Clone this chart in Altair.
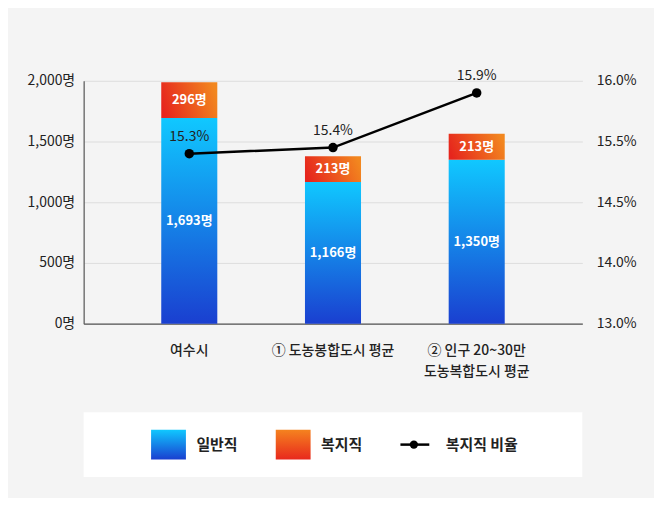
import altair as alt
import pandas as pd

# ---- data ----
categories = ["여수시", "① 도농봉합도시 평균", "② 인구 20~30만\n도농복합도시 평균"]
general = [1693, 1166, 1350]          # 일반직
welfare = [296, 213, 213]             # 복지직
welfare_ratio = [15.3, 15.4, 15.9]    # 복지직 비율 (%)
left_ticks = [0, 500, 1000, 1500, 2000]
right_ticks = [13.0, 14.0, 14.5, 15.5, 16.0]
legend_labels = ["일반직", "복지직", "복지직 비율"]
legend_kinds = ["blue", "orange", "line"]

W, H = 501, 244
FONT = "Noto Sans CJK KR"
TXT = "#222222"

df = pd.DataFrame({"cat": categories, "general": general,
                   "welfare": welfare, "ratio": welfare_ratio})
leg_df = pd.DataFrame({"label": legend_labels, "kind": legend_kinds})

blue = alt.Gradient(gradient="linear",
                    stops=[alt.GradientStop(color="#10c8ff", offset=0),
                           alt.GradientStop(color="#1a3fd0", offset=1)],
                    x1=0, y1=0, x2=0, y2=1)
orange_bar = alt.Gradient(gradient="linear",
                          stops=[alt.GradientStop(color="#e6251d", offset=0),
                                 alt.GradientStop(color="#f2871f", offset=1)],
                          x1=0, y1=0.6, x2=1, y2=0.4)
orange_leg = alt.Gradient(gradient="linear",
                          stops=[alt.GradientStop(color="#f5831f", offset=0),
                                 alt.GradientStop(color="#e8281d", offset=1)],
                          x1=0, y1=0, x2=0, y2=1)

x = alt.X("cat:N", sort=categories,
          scale=alt.Scale(paddingInner=0.61, paddingOuter=0.54),
          axis=alt.Axis(title=None, labelAngle=0, ticks=False, grid=False,
                        labelExpr="split(datum.label, '\\n')",
                        domainColor="#555555", domainWidth=1.2,
                        labelFontSize=14, labelFontWeight=500, labelColor=TXT,
                        labelPadding=20, labelLineHeight=21))

yl_scale = alt.Scale(domain=[0, 2000], nice=False)
yl_axis = alt.Axis(title=None, values=left_ticks, ticks=False,
                   labelExpr="format(datum.value, ',') + '명'",
                   domainColor="#555555", domainWidth=1.2,
                   gridColor="#dddddd", labelPadding=9,
                   labelFontSize=14, labelColor=TXT)

bars_blue = alt.Chart(df).mark_bar(color=blue).encode(
    x=x, y=alt.Y("general:Q", scale=yl_scale, axis=yl_axis))
bars_orange = alt.Chart(df).transform_calculate(
    total="datum.general + datum.welfare").mark_bar(color=orange_bar).encode(
    x=x, y=alt.Y("total:Q", scale=yl_scale, axis=yl_axis), y2="general:Q")
lbl_blue = alt.Chart(df).transform_calculate(
    mid="datum.general / 2",
    txt="format(datum.general, ',') + '명'").mark_text(
    color="white", fontWeight="bold", fontSize=13).encode(
    x=x, y=alt.Y("mid:Q", scale=yl_scale, axis=yl_axis), text="txt:N")
lbl_orange = alt.Chart(df).transform_calculate(
    mid="datum.general + datum.welfare / 2",
    txt="format(datum.welfare, ',') + '명'").mark_text(
    color="white", fontWeight="bold", fontSize=13).encode(
    x=x, y=alt.Y("mid:Q", scale=yl_scale, axis=yl_axis), text="txt:N")

yr_scale = alt.Scale(domain=right_ticks, range=[H, H * 0.75, H * 0.5, H * 0.25, 0],
                     nice=False, zero=False)
yr_axis = alt.Axis(title=None, orient="right", values=right_ticks, ticks=False,
                   domain=False, grid=False,
                   labelExpr="format(datum.value, '.1f') + '%'",
                   labelPadding=14, labelFontSize=14, labelColor=TXT)
yr = alt.Y("ratio:Q", scale=yr_scale, axis=yr_axis)

line = alt.Chart(df).mark_line(color="black", strokeWidth=2.5).encode(x=x, y=yr)
pts = alt.Chart(df).mark_point(filled=True, color="black", size=90, opacity=1).encode(x=x, y=yr)
line_lbl = alt.Chart(df).transform_calculate(
    txt="format(datum.ratio, '.1f') + '%'").mark_text(
    dy=-17, fontSize=14, color=TXT).encode(x=x, y=yr, text="txt:N")

top = alt.layer(
    alt.layer(bars_blue, bars_orange, lbl_blue, lbl_orange),
    alt.layer(line, pts, line_lbl),
).resolve_scale(y="independent").properties(width=W, height=H)

# ---- legend panel ----
lx = alt.X("label:N", sort=legend_labels,
           scale=alt.Scale(type="point", padding=1.0), axis=None)
leg_blue = alt.Chart(leg_df).transform_filter("datum.kind == 'blue'").mark_point(
    shape="M-1,-0.857H1V0.857H-1Z", size=1225, filled=True, color=blue,
    opacity=1, xOffset=-40).encode(x=lx)
leg_orange = alt.Chart(leg_df).transform_filter("datum.kind == 'orange'").mark_point(
    shape="M-1,-0.857H1V0.857H-1Z", size=1225, filled=True, color=orange_leg,
    opacity=1, xOffset=-40).encode(x=lx)
leg_line = alt.Chart(leg_df).transform_filter("datum.kind == 'line'").mark_point(
    shape="M-1,0H1", size=841, filled=False, color="black", strokeWidth=2.5,
    opacity=1, xOffset=-43).encode(x=lx)
leg_dot = alt.Chart(leg_df).transform_filter("datum.kind == 'line'").mark_point(
    shape="circle", size=70, filled=True, color="black",
    opacity=1, xOffset=-44).encode(x=lx)
leg_txt = alt.Chart(leg_df).mark_text(
    align="left", baseline="middle", dx=-12, fontSize=15, fontWeight="bold",
    color=TXT).encode(x=lx, text="label:N")

legend = alt.layer(leg_blue, leg_orange, leg_line, leg_dot, leg_txt).properties(
    width=W, height=65, view=alt.ViewBackground(fill="white", stroke=None))

chart = alt.vconcat(top, legend, spacing=34).resolve_scale(
    x="independent").properties(
    padding={"left": 19, "top": 60, "right": 17, "bottom": 20},
    background="#f4f4f4",
).configure(font=FONT).configure_view(stroke=None)

chart.save("out.html", embed_options={"renderer": "svg", "actions": False})
